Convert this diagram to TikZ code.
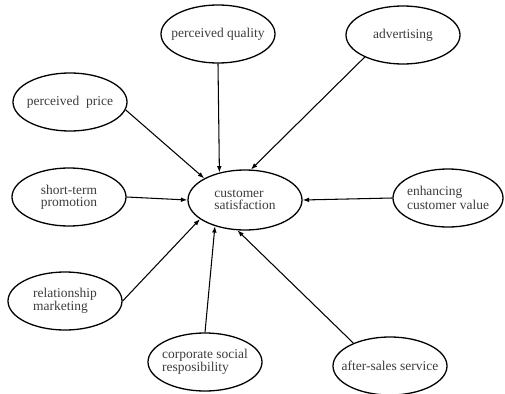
\documentclass[tikz,border=0pt]{standalone}
\usepackage{fontspec}
\setmainfont{Liberation Serif}
\definecolor{inkgray}{RGB}{60, 60, 60}
\usetikzlibrary{shapes, arrows.meta, positioning, calc}

\begin{document}
\begin{tikzpicture}[x=0.03cm, y=-0.03cm,
    factor/.style={draw, ellipse, line width=1.1pt, minimum width=3.42cm, minimum height=1.74cm, inner sep=0pt},
    txt/.style={align=left, text=inkgray, font=\fontsize{11.5}{10}\selectfont},
    link/.style={-{Latex[length=5.5pt, width=4pt]}, line width=0.9pt}]
  \useasboundingbox (0,0) rectangle (505,394);

  % centre
  \node[factor, minimum height=1.8cm, label={[txt]center:customer\\satisfaction}] (cs) at (245,200) {};

  % factors
  \node[factor, label={[txt]center:perceived quality}] (pq) at (218,34) {};
  \node[factor, label={[txt]center:advertising}] (adv) at (403,35) {};
  \node[factor, label={[txt]center:perceived\ \ price}] (price) at (70,102) {};
  \node[factor, label={[txt, align=center]center:short-term\\promotion}] (short) at (69,197) {};
  \node[factor, label={[txt]center:relationship\\marketing}] (rel) at (65,301) {};
  \node[factor, label={[txt]center:corporate social\\resposibility}] (corp) at (205,362) {};
  \node[factor, label={[txt]center:after-sales service}] (after) at (390,366) {};
  \node[factor, minimum width=3.3cm, label={[txt]center:enhancing\\customer value}] (enh) at (448,198) {};

  % connectors
  \draw[link] (pq.south) -- (cs.133);
  \draw[link] (adv.210) -- (cs.79);
  \draw[link] (price.-8) -- (cs.152);
  \draw[link] (short.east) -- (cs.west);
  \draw[link] (rel.east) -- (cs.203);
  \draw[link] (corp.north) -- (cs.221);
  \draw[link] (after.148) -- (cs.256);
  \draw[link] (enh.west) -- (cs.east);
\end{tikzpicture}
\end{document}
